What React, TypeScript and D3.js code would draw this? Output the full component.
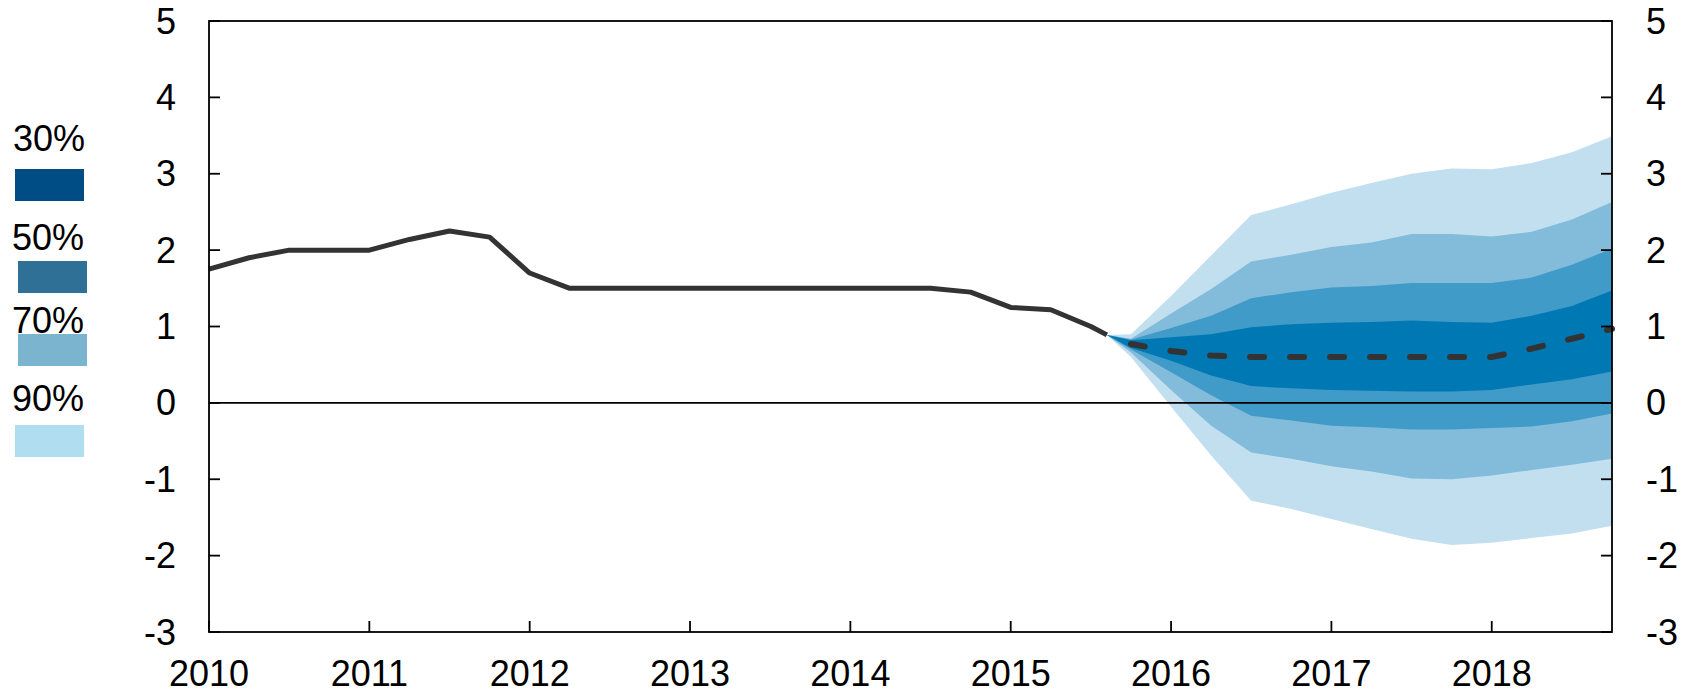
import React from 'react';
import * as d3 from 'd3';

// historical policy rate (quarterly)
const histDates = [
  2010, 2010.25, 2010.5, 2010.75, 2011, 2011.25, 2011.5, 2011.75, 2012, 2012.25,
  2012.5, 2012.75, 2013, 2013.25, 2013.5, 2013.75, 2014, 2014.25, 2014.5, 2014.75,
  2015, 2015.25, 2015.5, 2015.6,
];
const histValues = [
  1.75, 1.9, 2.0, 2.0, 2.0, 2.14, 2.25, 2.17, 1.7, 1.5,
  1.5, 1.5, 1.5, 1.5, 1.5, 1.5, 1.5, 1.5, 1.5, 1.45,
  1.25, 1.22, 1.0, 0.89,
];

// forecast fan
const fanDates = [
  2015.6, 2015.75, 2016, 2016.25, 2016.5, 2016.75, 2017, 2017.25, 2017.5, 2017.75,
  2018, 2018.25, 2018.5, 2018.75,
];
const median = [0.89, 0.77, 0.68, 0.62, 0.6, 0.6, 0.6, 0.6, 0.6, 0.6, 0.6, 0.71, 0.84, 0.97];
const up30 = [0.89, 0.82, 0.86, 0.9, 0.99, 1.03, 1.05, 1.06, 1.08, 1.06, 1.05, 1.14, 1.27, 1.47];
const lo30 = [0.89, 0.72, 0.55, 0.36, 0.22, 0.19, 0.17, 0.16, 0.15, 0.15, 0.17, 0.24, 0.31, 0.41];
const up50 = [0.89, 0.83, 0.98, 1.14, 1.37, 1.45, 1.51, 1.53, 1.57, 1.57, 1.57, 1.64, 1.81, 2.02];
const lo50 = [0.89, 0.7, 0.4, 0.1, -0.17, -0.23, -0.3, -0.32, -0.35, -0.35, -0.33, -0.31, -0.24, -0.14];
const up70 = [0.89, 0.84, 1.17, 1.49, 1.85, 1.94, 2.04, 2.1, 2.21, 2.21, 2.18, 2.24, 2.4, 2.63];
const lo70 = [0.89, 0.66, 0.17, -0.3, -0.65, -0.73, -0.83, -0.9, -0.99, -1.0, -0.95, -0.88, -0.81, -0.73];
const up90 = [0.89, 0.9, 1.4, 1.93, 2.46, 2.6, 2.75, 2.88, 3.0, 3.07, 3.06, 3.14, 3.28, 3.49];
const lo90 = [0.89, 0.6, -0.05, -0.69, -1.28, -1.39, -1.52, -1.65, -1.78, -1.86, -1.83, -1.77, -1.71, -1.61];

const yTicks = [5, 4, 3, 2, 1, 0, -1, -2, -3];
const xTicks = [2010, 2011, 2012, 2013, 2014, 2015, 2016, 2017, 2018];
const legendLabels = ['30%', '50%', '70%', '90%'];

const W = 1686;
const H = 694;
const left = 209, right = 1612, top = 21, bottom = 632;
const font = '"Liberation Sans", Arial, sans-serif';

const x = d3.scaleLinear().domain([2010, 2018.75]).range([left, right]);
const y = d3.scaleLinear().domain([-3, 5]).range([bottom, top]);

const bands = [
  { lo: lo90, up: up90, fill: '#c2dfef' },
  { lo: lo70, up: up70, fill: '#82bcda' },
  { lo: lo50, up: up50, fill: '#419bc8' },
  { lo: lo30, up: up30, fill: '#0078b4' },
];

// legend swatches look a bit different from the fan itself
const legendColors = ['#004c85', '#2e7096', '#7bb4cf', '#b0def0'];
const legendPos = [
  { tx: 13, ty: 151, sx: 15, sy: 169 },
  { tx: 12, ty: 250, sx: 18, sy: 261 },
  { tx: 12, ty: 333, sx: 18, sy: 334 },
  { tx: 12, ty: 411, sx: 15, sy: 425 },
];

export default function App() {
  const area = (lo: number[], up: number[]) =>
    d3.area<number>()
      .x((_, i) => x(fanDates[i]))
      .y0((_, i) => y(lo[i]))
      .y1((_, i) => y(up[i]))(fanDates) || '';

  const histLine = d3.line<number>()
    .x((_, i) => x(histDates[i]))
    .y(d => y(d))(histValues) || '';

  const medLine = d3.line<number>()
    .x((_, i) => x(fanDates[i + 1]))
    .y(d => y(d))(median.slice(1)) || '';

  return (
    <svg width={W} height={H} style={{ position: 'absolute', left: 0, top: 0, background: '#fff' }}
      fontFamily={font}>
      {bands.map((b, i) => (
        <path key={i} d={area(b.lo, b.up)} fill={b.fill} stroke="none" />
      ))}

      {/* zero line */}
      <line x1={left} x2={right} y1={y(0)} y2={y(0)} stroke="#000" strokeWidth={1.6} />

      <path d={histLine} fill="none" stroke="#333" strokeWidth={5} strokeLinejoin="round" />
      <path d={medLine} fill="none" stroke="#333" strokeWidth={6} strokeLinecap="round"
        strokeDasharray="14 26" />

      {/* frame */}
      <rect x={left} y={top} width={right - left} height={bottom - top} fill="none"
        stroke="#000" strokeWidth={1.8} />

      {yTicks.map(t => (
        <g key={t}>
          <line x1={left} x2={left + 11} y1={y(t)} y2={y(t)} stroke="#000" strokeWidth={1.8} />
          <line x1={right - 11} x2={right} y1={y(t)} y2={y(t)} stroke="#000" strokeWidth={1.8} />
          <text x={176} y={y(t) + 12.5} textAnchor="end" fontSize={36}>{t}</text>
          <text x={1646} y={y(t) + 12.5} textAnchor="start" fontSize={36}>{t}</text>
        </g>
      ))}

      {xTicks.map(t => (
        <g key={t}>
          <line x1={x(t)} x2={x(t)} y1={bottom} y2={bottom - 11} stroke="#000" strokeWidth={1.8} />
          <text x={x(t)} y={686} textAnchor="middle" fontSize={36}>{t}</text>
        </g>
      ))}

      {legendLabels.map((l, i) => (
        <g key={l}>
          <text x={legendPos[i].tx} y={legendPos[i].ty} fontSize={36}>{l}</text>
          <rect x={legendPos[i].sx} y={legendPos[i].sy} width={69} height={32} fill={legendColors[i]} />
        </g>
      ))}
    </svg>
  );
}
